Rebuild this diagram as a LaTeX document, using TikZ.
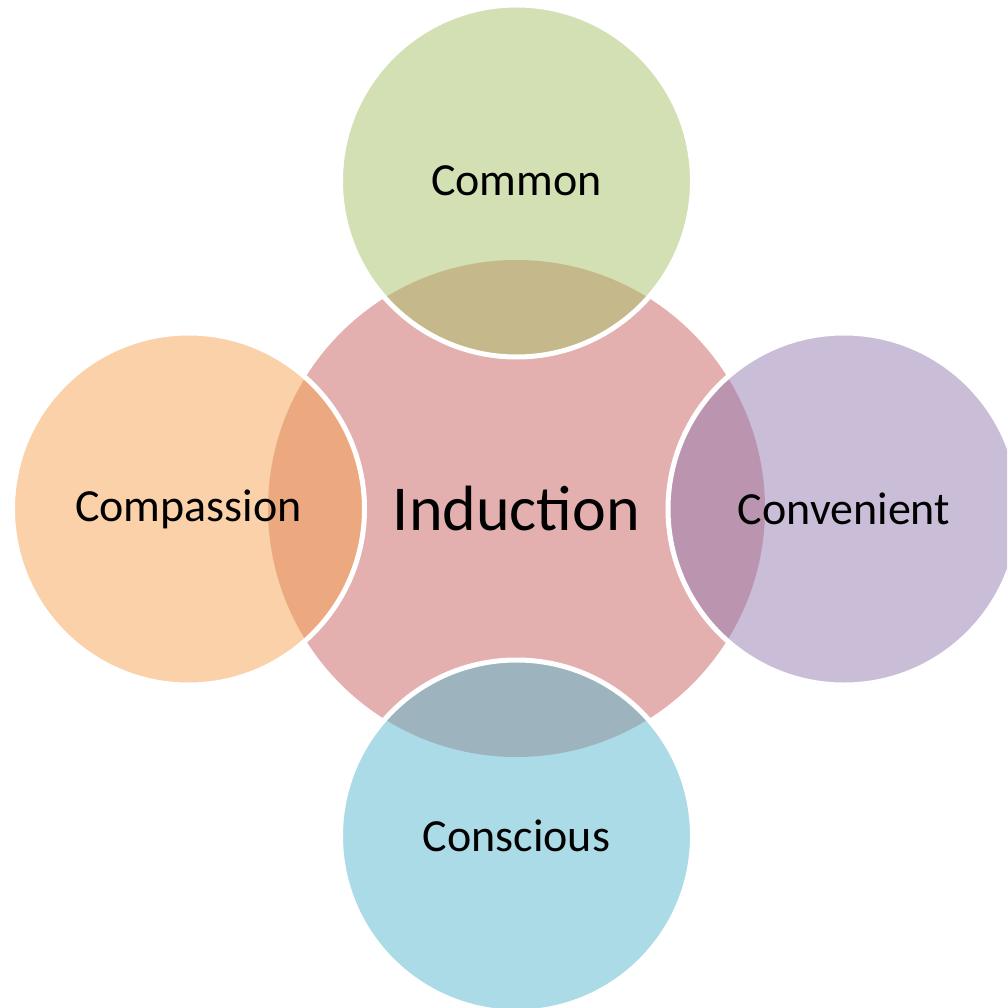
\documentclass[tikz,border=0pt]{standalone}
\usepackage{fontspec}
\setmainfont{Carlito}
\usepackage{tikz}
\usetikzlibrary{positioning}
\usepackage{xcolor}

\definecolor{hubpink}{RGB}{228,176,175}
\definecolor{petalgreen}{RGB}{167,193,103}
\definecolor{petalorange}{RGB}{245,163,81}
\definecolor{petalpurple}{RGB}{147,123,177}
\definecolor{petalblue}{RGB}{87,183,205}

\begin{document}
\begin{tikzpicture}[
  x=1pt, y=-1pt,
  hub/.style={circle, fill=hubpink, minimum size=497pt, inner sep=0pt, font=\fontsize{64}{70}\selectfont},
  petal/.style={circle, fill=#1, fill opacity=0.5, text opacity=1, draw=white, line width=5pt, minimum size=352pt, inner sep=0pt, font=\fontsize{46}{50}\selectfont}
]
\useasboundingbox (0,0) rectangle (1007,1008);
\clip (0,0) rectangle (1007,1008);

% Nodes
\node[hub] (induction) at (516.5,508.5) {Induction};
\node[petal=petalgreen] (common) at (516.5,181) {Common};
\node[petal=petalorange] (compassion) at (188.5,509) {Compassion};
\node[petal=petalpurple] (convenient) at (844,509) {Convenient};
\node[petal=petalblue] (conscious) at (516.5,836) {Conscious};

\end{tikzpicture}
\end{document}
